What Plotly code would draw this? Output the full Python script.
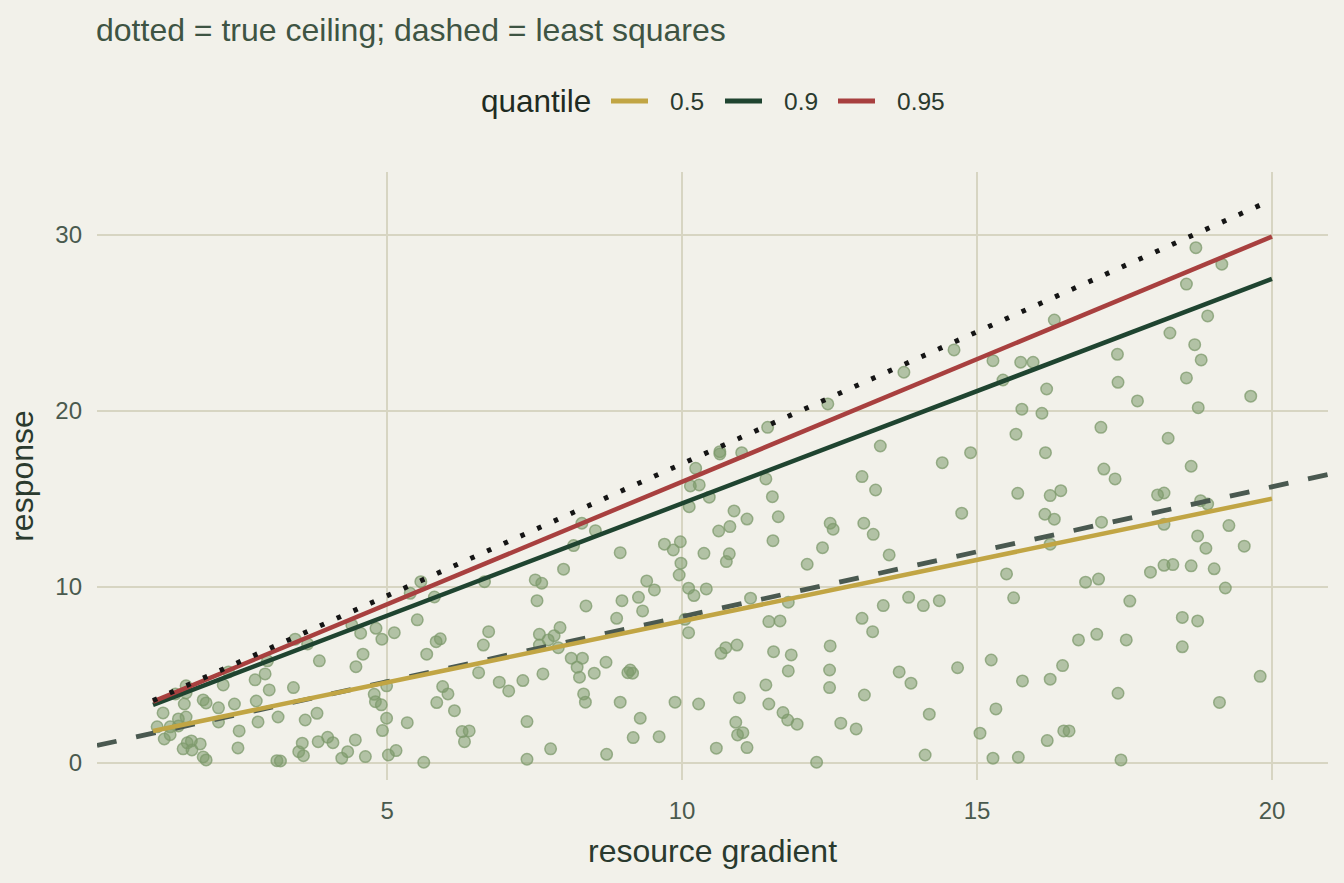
import plotly.graph_objects as go

# ---- data ----
pt_x = [1.41, 1.59, 1.59, 1.56, 1.88, 1.93, 1.20, 2.14, 2.41, 2.78, 2.22, 2.76, 2.93, 3.00, 2.97, 2.31,
        1.59, 1.46, 1.46, 1.10, 1.32, 1.22, 1.32, 2.14, 2.49, 2.81, 3.15, 1.61, 1.68, 1.83, 1.54, 1.69,
        2.47, 1.88, 1.93, 3.13, 3.19,
        5.57, 5.39, 5.80, 5.51, 5.12, 4.91, 4.81, 4.55, 4.40, 3.44, 3.65, 3.85, 4.59, 4.47, 5.83, 5.90,
        5.67, 6.63, 6.72, 6.65, 6.55, 3.41, 3.61, 3.81, 4.78, 4.80, 4.90, 4.99, 4.99, 4.92, 5.34, 5.94,
        6.03, 5.84, 6.14, 6.27, 6.39, 6.31, 3.56, 3.50, 3.58, 3.83, 3.99, 4.08, 4.46, 4.33, 4.23, 4.63,
        5.02, 5.15, 5.62,
        8.30, 8.53, 8.16, 8.95, 7.99, 7.51, 7.62, 7.54, 8.37, 8.98, 9.26, 9.40, 9.53, 9.33, 8.89, 9.70,
        9.85, 9.97, 9.98, 9.95, 10.11, 10.20, 10.14, 10.12, 10.11, 10.05, 7.58, 7.83, 7.93, 7.73, 7.58,
        7.90, 6.90, 7.06, 7.30, 7.64, 8.12, 8.31, 8.22, 8.26, 8.51, 8.71, 9.12, 9.08, 9.16, 8.33, 8.36,
        8.95, 9.88, 10.28, 7.37, 9.29, 7.77, 7.37, 8.72, 9.17, 9.61,
        12.47, 11.45, 10.64, 10.64, 11.01, 10.23, 10.29, 10.46, 11.42, 11.53, 13.36, 13.05, 13.28, 10.88,
        11.10, 11.63, 10.62, 10.81, 11.54, 12.51, 12.56, 13.08, 13.24, 10.37, 10.80, 10.75, 12.12, 12.38,
        13.51, 10.41, 11.16, 11.80, 11.47, 11.66, 13.41, 13.84, 13.05, 13.23, 10.66, 10.74, 10.93, 11.55,
        11.85, 12.51, 11.80, 12.50, 12.50, 13.68, 13.88, 11.42, 10.97, 11.47, 13.09, 10.91, 10.94,
        11.03, 11.71, 11.79, 11.95, 12.69, 12.95, 10.58, 11.10, 12.28,
        16.31, 13.76, 14.61, 15.27, 15.44, 15.74, 15.95, 16.18, 17.38, 17.39, 17.72, 15.76, 16.10, 15.66,
        16.16, 17.10, 17.15, 17.34, 14.41, 14.89, 14.74, 15.69, 16.24, 16.42, 16.15, 16.31, 17.11, 16.24,
        15.50, 16.84, 17.06, 14.09, 14.36, 15.62, 16.72, 17.03, 17.59, 17.53, 15.24, 14.67, 15.77, 16.24,
        16.45, 17.39, 14.19, 15.32, 15.05, 16.19, 16.47, 16.56, 14.12, 15.27, 15.70, 17.44,
        18.71, 19.15, 18.55, 18.91, 18.27, 18.69, 18.80, 18.55, 18.75, 19.64, 18.24, 18.63, 18.06, 18.17,
        18.79, 18.91, 18.17, 18.74, 18.88, 19.27, 19.53, 17.94, 18.17, 18.32, 18.63, 19.02, 19.21, 18.48,
        18.74, 18.48, 19.80, 19.11]

pt_y = [3.92, 4.38, 3.98, 3.35, 3.58, 3.41, 2.84, 3.13, 3.35, 3.52, 4.43, 4.72, 5.06, 4.15, 5.80, 5.17,
        2.61, 2.50, 2.10, 2.05, 2.05, 1.36, 1.60, 2.33, 1.82, 2.33, 2.61, 1.14, 1.25, 1.08, 0.80, 0.74,
        0.85, 0.34, 0.17, 0.13, 0.11,
        10.30, 9.64, 9.43, 8.13, 7.40, 7.03, 7.65, 7.37, 7.84, 7.03, 6.76, 5.80, 6.18, 5.47, 6.89, 7.05,
        6.18, 6.70, 7.46, 10.30, 5.13, 4.28, 2.44, 2.82, 3.90, 3.48, 3.30, 4.38, 2.54, 1.84, 2.29, 4.34,
        3.92, 3.43, 2.97, 1.78, 1.82, 1.21, 1.12, 0.64, 0.41, 1.21, 1.46, 1.15, 1.31, 0.64, 0.27, 0.36,
        0.45, 0.70, 0.04,
        13.62, 13.20, 12.35, 11.95, 11.01, 10.40, 10.21, 9.22, 8.92, 9.22, 9.41, 10.34, 9.83, 8.64, 8.22,
        12.43, 12.10, 12.57, 11.35, 10.68, 9.93, 9.51, 15.74, 14.56, 7.40, 8.16, 7.31, 7.23, 7.69, 6.99,
        6.70, 6.55, 4.59, 4.09, 4.68, 5.06, 5.95, 5.95, 5.44, 4.87, 5.10, 5.72, 5.28, 5.13, 5.10, 3.92,
        3.45, 3.45, 3.45, 3.35, 2.35, 2.54, 0.80, 0.21, 0.49, 1.44, 1.49,
        20.40, 19.07, 17.69, 17.56, 17.63, 16.74, 15.80, 15.10, 16.14, 15.13, 18.01, 16.27, 15.51, 14.32,
        13.86, 13.99, 13.18, 13.43, 12.63, 13.62, 13.28, 13.62, 12.99, 11.91, 11.88, 11.44, 11.29, 12.23,
        11.82, 9.89, 9.36, 9.13, 8.03, 8.07, 8.94, 9.41, 8.22, 7.46, 6.23, 6.55, 6.70, 6.32,
        6.14, 6.65, 5.23, 5.28, 4.28, 5.17, 4.53, 4.43, 3.71, 3.35, 3.86, 2.31, 1.59,
        1.72, 2.86, 2.44, 2.20, 2.26, 1.93, 0.84, 0.87, 0.04,
        25.17, 22.20, 23.47, 22.86, 21.76, 22.77, 22.77, 21.25, 23.22, 21.63, 20.57, 20.10, 19.87, 18.68,
        17.63, 19.07, 16.70, 16.14, 17.06, 17.63, 14.19, 15.32, 15.19, 15.47, 14.13, 13.85, 13.68, 12.43,
        10.74, 10.27, 10.45, 8.94, 9.22, 9.38, 6.99, 7.31, 9.20, 6.99, 5.85, 5.41, 4.66, 4.76,
        5.53, 3.96, 2.77, 3.07, 1.69, 1.27, 1.82, 1.82, 0.45, 0.27, 0.32, 0.17,
        29.28, 28.34, 27.21, 25.40, 24.43, 23.77, 22.90, 21.88, 20.19, 20.84, 18.45, 16.86, 15.23, 15.34,
        14.90, 14.71, 13.56, 12.90, 12.20, 13.49, 12.32, 10.84, 11.23, 11.27, 11.20, 11.03, 9.94, 8.27,
        8.07, 6.60, 4.92, 3.44]

# fitted lines
fit_domain = [1.03, 20.0]           # x span of the quantile / ceiling lines
quantiles = ["0.5", "0.9", "0.95"]
q_intercept = [1.10, 1.99, 2.05]
q_slope = [0.696, 1.276, 1.393]
q_colors = ["#C1A544", "#1F4430", "#A8403F"]

ceiling_intercept, ceiling_slope = 2.0, 1.5
ols_intercept, ols_slope = 0.93, 0.738

x_range = [0.08, 20.95]
y_range = [-0.97, 33.58]

BG = "#F2F1EA"
GRID = "#D7D5C2"
FONT = "Liberation Sans, Arial, sans-serif"

W, H = 1344, 883
ML, MR, MT, MB = 97, 16, 172, 103
PW, PH = W - ML - MR, H - MT - MB


def px_x(p):
    return (p - ML) / PW


def px_y(p):
    return (H - MB - p) / PH


fig = go.Figure()

fig.add_trace(go.Scatter(
    x=pt_x, y=pt_y, mode="markers", showlegend=False, hoverinfo="skip",
    marker=dict(size=11.5, color="rgba(125,154,108,0.55)",
                line=dict(color="rgba(125,154,108,0.75)", width=1.5))))

# least squares (spans the panel)
fig.add_trace(go.Scatter(
    x=x_range, y=[ols_intercept + ols_slope * v for v in x_range],
    mode="lines", showlegend=False, hoverinfo="skip",
    line=dict(color="#4A5950", width=4.8, dash="20px,20px")))

for q, a, b, c in zip(quantiles, q_intercept, q_slope, q_colors):
    fig.add_trace(go.Scatter(
        x=fit_domain, y=[a + b * v for v in fit_domain], mode="lines", name=q,
        showlegend=False, line=dict(color=c, width=4.5)))

fig.add_trace(go.Scatter(
    x=fit_domain, y=[ceiling_intercept + ceiling_slope * v for v in fit_domain],
    mode="lines", showlegend=False, hoverinfo="skip",
    line=dict(color="#151515", width=5, dash="4.5px,13.8px")))

# ---- legend drawn as shapes + text ----
legend_y = 101
item_starts = [611, 725, 838]
shapes = []
annotations = [dict(text="quantile", xref="paper", yref="paper",
                    x=px_x(479), y=px_y(legend_y), xanchor="left", yanchor="middle",
                    showarrow=False, font=dict(size=31.5, color="#1F2B22", family=FONT))]
for q, c, s in zip(quantiles, q_colors, item_starts):
    shapes.append(dict(type="line", xref="paper", yref="paper",
                       x0=px_x(s), x1=px_x(s + 37), y0=px_y(legend_y), y1=px_y(legend_y),
                       line=dict(color=c, width=5)))
    annotations.append(dict(text=q, xref="paper", yref="paper",
                            x=px_x(s + 57), y=px_y(legend_y), xanchor="left",
                            yanchor="middle", showarrow=False,
                            font=dict(size=24.5, color="#2A3A2E", family=FONT)))

fig.update_layout(
    width=W, height=H,
    paper_bgcolor=BG, plot_bgcolor=BG,
    margin=dict(l=ML, r=MR, t=MT, b=MB),
    font=dict(family=FONT, color="#4A5A4E"),
    showlegend=False,
    title=dict(text="dotted = true ceiling; dashed = least squares",
               x=96 / W, xref="container", xanchor="left",
               y=1 - 30 / H, yref="container", yanchor="middle",
               font=dict(size=32, color="#3E5443", family=FONT)),
    shapes=shapes,
    annotations=annotations,
    xaxis=dict(range=x_range, tickvals=[5, 10, 15, 20], showgrid=True,
               gridcolor=GRID, gridwidth=1.6, zeroline=False, showline=False,
               ticks="", ticklabelstandoff=14,
               tickfont=dict(size=24, color="#4A5A4E"),
               title=dict(text="resource gradient", standoff=16,
                          font=dict(size=32, color="#2A3A2E"))),
    yaxis=dict(range=y_range, tickvals=[0, 10, 20, 30], showgrid=True,
               gridcolor=GRID, gridwidth=1.6, zeroline=False, showline=False,
               ticks="", ticklabelstandoff=14,
               tickfont=dict(size=24, color="#4A5A4E"),
               title=dict(text="response", standoff=12,
                          font=dict(size=32, color="#2A3A2E"))),
)

fig.write_html("out.html")
